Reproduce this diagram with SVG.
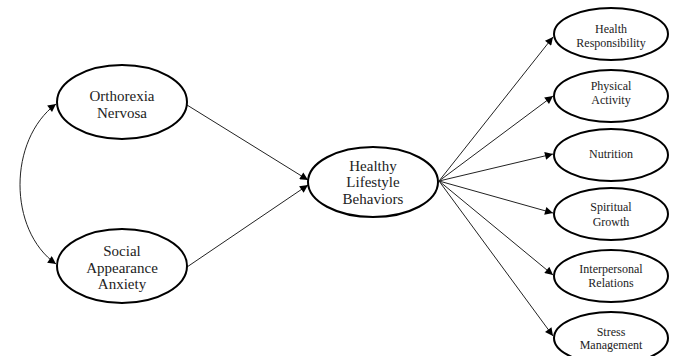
<svg xmlns="http://www.w3.org/2000/svg" width="675" height="356" viewBox="0 0 675 356">
<style>
ellipse{fill:#fff;stroke:#000;stroke-width:2}
text{font-family:"Liberation Serif","Times New Roman",serif;fill:#222;text-anchor:middle}
.l{font-size:15px}
.s{font-size:12px}
.c{fill:none;stroke:#222;stroke-width:1}
</style>
<defs>
<marker id="ah" viewBox="0 0 10 10" refX="10" refY="5" markerWidth="9" markerHeight="8" markerUnits="userSpaceOnUse" orient="auto-start-reverse">
<path d="M0,0 L10,5 L0,10 z" fill="#000"/>
</marker>
</defs>
<g id="connectors">
<path class="c" d="M56,104 C8,140 8,230 56,264" marker-start="url(#ah)" marker-end="url(#ah)"/>
<line class="c" x1="187" y1="105" x2="308" y2="180" marker-end="url(#ah)"/>
<line class="c" x1="187" y1="267" x2="308" y2="185" marker-end="url(#ah)"/>
<line class="c" x1="439" y1="181" x2="553" y2="37" marker-end="url(#ah)"/>
<line class="c" x1="439" y1="181" x2="553" y2="96" marker-end="url(#ah)"/>
<line class="c" x1="439" y1="181" x2="553" y2="154" marker-end="url(#ah)"/>
<line class="c" x1="439" y1="181" x2="553" y2="213" marker-end="url(#ah)"/>
<line class="c" x1="439" y1="181" x2="553" y2="275" marker-end="url(#ah)"/>
<line class="c" x1="439" y1="181" x2="553" y2="336" marker-end="url(#ah)"/>
</g>
<g id="orthorexia">
<ellipse cx="122" cy="102" rx="65" ry="37"/>
<text class="l" x="122" y="101">Orthorexia</text>
<text class="l" x="122" y="118">Nervosa</text>
</g>
<g id="social">
<ellipse cx="122" cy="266" rx="65" ry="37"/>
<text class="l" x="122" y="256">Social</text>
<text class="l" x="122" y="273">Appearance</text>
<text class="l" x="122" y="289">Anxiety</text>
</g>
<g id="healthy">
<ellipse cx="373" cy="182" rx="65" ry="35"/>
<text class="l" x="373" y="171">Healthy</text>
<text class="l" x="373" y="187">Lifestyle</text>
<text class="l" x="373" y="204">Behaviors</text>
</g>
<g id="health-responsibility">
<ellipse cx="611" cy="34" rx="57" ry="26"/>
<text class="s" x="611" y="33">Health</text>
<text class="s" x="611" y="47">Responsibility</text>
</g>
<g id="physical-activity">
<ellipse cx="611" cy="96" rx="57" ry="26"/>
<text class="s" x="611" y="90">Physical</text>
<text class="s" x="611" y="104">Activity</text>
</g>
<g id="nutrition">
<ellipse cx="611" cy="155" rx="57" ry="26"/>
<text class="s" x="611" y="158">Nutrition</text>
</g>
<g id="spiritual-growth">
<ellipse cx="611" cy="214" rx="57" ry="26"/>
<text class="s" x="611" y="211">Spiritual</text>
<text class="s" x="611" y="226">Growth</text>
</g>
<g id="interpersonal-relations">
<ellipse cx="611" cy="276" rx="57" ry="26"/>
<text class="s" x="611" y="273">Interpersonal</text>
<text class="s" x="611" y="287">Relations</text>
</g>
<g id="stress-management">
<ellipse cx="611" cy="338" rx="57" ry="26"/>
<text class="s" x="611" y="336">Stress</text>
<text class="s" x="611" y="349">Management</text>
</g>
</svg>
